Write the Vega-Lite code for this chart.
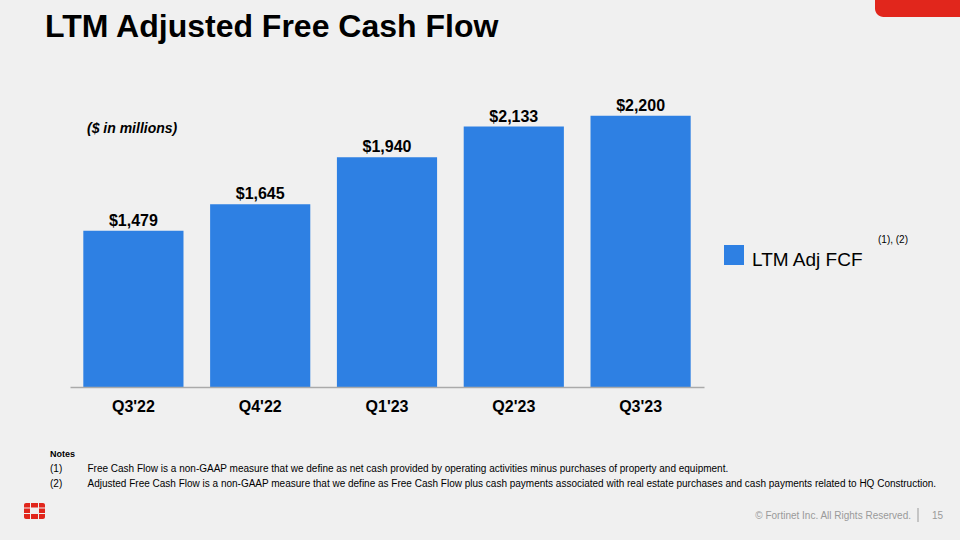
{
  "$schema": "https://vega.github.io/schema/vega-lite/v6.json",
  "width": 634,
  "height": 319,
  "autosize": "none",
  "padding": {"left": 70, "top": 68, "right": 256, "bottom": 153},
  "background": "#f0f0f0",
  "config": {"view": {"stroke": null}, "font": "Liberation Sans"},
  "data": {
    "values": [
      {"quarter": "Q3'22", "fcf": 1479, "series": "LTM Adj FCF"},
      {"quarter": "Q4'22", "fcf": 1645, "series": "LTM Adj FCF"},
      {"quarter": "Q1'23", "fcf": 1940, "series": "LTM Adj FCF"},
      {"quarter": "Q2'23", "fcf": 2133, "series": "LTM Adj FCF"},
      {"quarter": "Q3'23", "fcf": 2200, "series": "LTM Adj FCF"}
    ]
  },
  "layer": [
    {
      "mark": {"type": "bar", "clip": true},
      "encoding": {
        "x": {
          "field": "quarter",
          "type": "ordinal",
          "sort": null,
          "scale": {"paddingInner": 0.21, "paddingOuter": 0.105},
          "axis": {
            "title": null,
            "labelAngle": 0,
            "labelFont": "Liberation Sans",
            "labelFontSize": 16,
            "labelFontWeight": "bold",
            "labelColor": "#000000",
            "labelPadding": 11,
            "ticks": false,
            "domainColor": "#aaaaaa",
            "domainWidth": 1.5,
            "grid": false,
            "zindex": 1
          }
        },
        "y": {
          "field": "fcf",
          "type": "quantitative",
          "scale": {"domain": [500, 2500], "zero": false, "nice": false},
          "axis": null
        },
        "color": {
          "field": "series",
          "type": "nominal",
          "scale": {"range": ["#2e80e3"]},
          "legend": {
            "orient": "none",
            "legendX": 654,
            "legendY": 182,
            "title": null,
            "padding": 0,
            "symbolType": "M-1,-1.5H1V0.5H-1Z",
            "symbolSize": 400,
            "symbolStrokeWidth": 0,
            "symbolOpacity": 1,
            "labelFont": "Liberation Sans",
            "labelFontSize": 19,
            "labelColor": "#000000",
            "labelOffset": 8
          }
        }
      }
    },
    {
      "mark": {"type": "text", "baseline": "alphabetic", "dy": -5, "fontSize": 16, "fontWeight": "bold", "color": "#000000", "font": "Liberation Sans"},
      "encoding": {
        "x": {"field": "quarter", "type": "ordinal", "sort": null},
        "y": {"field": "fcf", "type": "quantitative"},
        "text": {"field": "fcf", "type": "quantitative", "format": "$,.0f"}
      }
    },
    {
      "data": {"values": [{"t": "LTM Adjusted Free Cash Flow"}]},
      "mark": {"type": "text", "align": "left", "baseline": "alphabetic", "fontSize": 32, "fontWeight": "bold", "color": "#000000"},
      "encoding": {"x": {"value": -25}, "y": {"value": -31}, "text": {"field": "t"}}
    },
    {
      "data": {"values": [{"t": "($ in millions)"}]},
      "mark": {"type": "text", "align": "left", "baseline": "alphabetic", "fontSize": 14, "fontWeight": "bold", "fontStyle": "italic", "color": "#000000"},
      "encoding": {"x": {"value": 17}, "y": {"value": 65}, "text": {"field": "t"}}
    },
    {
      "data": {"values": [{"t": "(1), (2)"}]},
      "mark": {"type": "text", "align": "left", "baseline": "alphabetic", "fontSize": 10, "color": "#000000"},
      "encoding": {"x": {"value": 808}, "y": {"value": 175}, "text": {"field": "t"}}
    },
    {
      "data": {"values": [{"t": "Notes"}]},
      "mark": {"type": "text", "align": "left", "baseline": "alphabetic", "fontSize": 9, "fontWeight": "bold", "color": "#000000"},
      "encoding": {"x": {"value": -20}, "y": {"value": 389}, "text": {"field": "t"}}
    },
    {
      "data": {"values": [{"n": "(1)", "t": "Free Cash Flow is a non-GAAP measure that we define as net cash provided by operating activities minus purchases of property and equipment."}]},
      "layer": [
        {"mark": {"type": "text", "align": "left", "baseline": "alphabetic", "fontSize": 10, "color": "#000000"},
         "encoding": {"x": {"value": -20}, "y": {"value": 403.5}, "text": {"field": "n"}}},
        {"mark": {"type": "text", "align": "left", "baseline": "alphabetic", "fontSize": 10, "color": "#000000"},
         "encoding": {"x": {"value": 17.5}, "y": {"value": 403.5}, "text": {"field": "t"}}}
      ]
    },
    {
      "data": {"values": [{"n": "(2)", "t": "Adjusted Free Cash Flow is a non-GAAP measure that we define as Free Cash Flow plus cash payments associated with real estate purchases and cash payments related to HQ Construction."}]},
      "layer": [
        {"mark": {"type": "text", "align": "left", "baseline": "alphabetic", "fontSize": 10, "color": "#000000"},
         "encoding": {"x": {"value": -20}, "y": {"value": 418.5}, "text": {"field": "n"}}},
        {"mark": {"type": "text", "align": "left", "baseline": "alphabetic", "fontSize": 10, "color": "#000000"},
         "encoding": {"x": {"value": 17.5}, "y": {"value": 418.5}, "text": {"field": "t"}}}
      ]
    },
    {
      "data": {"values": [{"t": "© Fortinet Inc. All Rights Reserved.", "p": "15"}]},
      "layer": [
        {"mark": {"type": "text", "align": "right", "baseline": "alphabetic", "fontSize": 10, "color": "#9a9a9a"},
         "encoding": {"x": {"value": 841}, "y": {"value": 451}, "text": {"field": "t"}}},
        {"mark": {"type": "text", "align": "left", "baseline": "alphabetic", "fontSize": 10, "color": "#9a9a9a"},
         "encoding": {"x": {"value": 862}, "y": {"value": 451}, "text": {"field": "p"}}},
        {"mark": {"type": "rule", "stroke": "#9a9a9a", "strokeWidth": 1},
         "encoding": {"x": {"value": 848}, "y": {"value": 440}, "y2": {"value": 454}}}
      ]
    },
    {
      "data": {"values": [{}]},
      "layer": [
        {"mark": {"type": "rect", "color": "#e1261c", "cornerRadiusBottomLeft": 10},
         "encoding": {"x": {"value": 805}, "x2": {"value": 890}, "y": {"value": -68}, "y2": {"value": -51}}},
        {"mark": {"type": "rect", "color": "#e1261c", "cornerRadiusTopLeft": 2},
         "encoding": {"x": {"value": -46}, "x2": {"value": -40}, "y": {"value": 435}, "y2": {"value": 439.5}}},
        {"mark": {"type": "rect", "color": "#e1261c"},
         "encoding": {"x": {"value": -39}, "x2": {"value": -32}, "y": {"value": 435}, "y2": {"value": 439.5}}},
        {"mark": {"type": "rect", "color": "#e1261c", "cornerRadiusTopRight": 2},
         "encoding": {"x": {"value": -31}, "x2": {"value": -25}, "y": {"value": 435}, "y2": {"value": 439.5}}},
        {"mark": {"type": "rect", "color": "#e1261c"},
         "encoding": {"x": {"value": -46}, "x2": {"value": -40}, "y": {"value": 440.5}, "y2": {"value": 445}}},
        {"mark": {"type": "rect", "color": "#e1261c"},
         "encoding": {"x": {"value": -31}, "x2": {"value": -25}, "y": {"value": 440.5}, "y2": {"value": 445}}},
        {"mark": {"type": "rect", "color": "#e1261c", "cornerRadiusBottomLeft": 2},
         "encoding": {"x": {"value": -46}, "x2": {"value": -40}, "y": {"value": 446}, "y2": {"value": 451}}},
        {"mark": {"type": "rect", "color": "#e1261c"},
         "encoding": {"x": {"value": -39}, "x2": {"value": -32}, "y": {"value": 446}, "y2": {"value": 451}}},
        {"mark": {"type": "rect", "color": "#e1261c", "cornerRadiusBottomRight": 2},
         "encoding": {"x": {"value": -31}, "x2": {"value": -25}, "y": {"value": 446}, "y2": {"value": 451}}}
      ]
    }
  ]
}
